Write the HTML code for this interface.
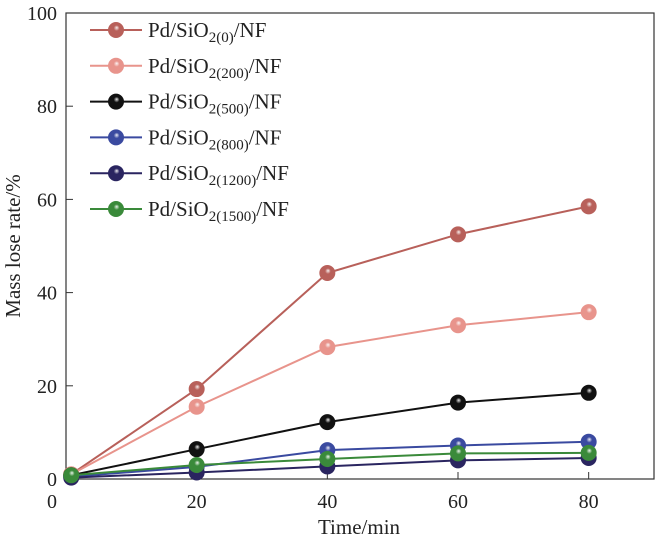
<!DOCTYPE html>
<html><head><meta charset="utf-8"><style>
body{margin:0;background:#fff}
svg{display:block;font-family:"Liberation Serif",serif}
</style></head><body>
<svg width="655" height="543" viewBox="0 0 655 543">
<defs>
<radialGradient id="gr" cx="0.5" cy="0.45" r="0.6" fx="0.55" fy="0.35"><stop offset="0" stop-color="#fff" stop-opacity="0.9"/><stop offset="0.3" stop-color="#fff" stop-opacity="0"/></radialGradient>
</defs>
<g id="axes"></g>
<g id="series"></g>
<g id="legend"></g>
</svg>
<script>
const xValues=[0.8,20,40,60,80];
const seriesNames=["0","200","500","800","1200","1500"];
const seriesColors=["#b8605a","#e8948c","#111111","#3a4aa0","#2a2560","#3a8a3a"];
const redValues=[1,19.3,44.2,52.5,58.5];
const pinkValues=[1,15.5,28.3,33,35.8];
const blackValues=[0.8,6.4,12.2,16.4,18.5];
const blueValues=[0.5,2.6,6.2,7.2,8.0];
const darkValues=[0.3,1.4,2.7,4.0,4.5];
const greenValues=[0.8,3.0,4.3,5.5,5.6];
const xTicks=[0,20,40,60,80];
const yTicks=[0,20,40,60,80,100];
const allSeries=[redValues,pinkValues,blackValues,blueValues,darkValues,greenValues];
const L=66,R=654,T=13,B=479;
const xs=v=>L+(v/90)*(R-L);
const ys=v=>B-(v/100)*(B-T);
const NS="http://www.w3.org/2000/svg";
function mk(tag,attrs,parent){const e=document.createElementNS(NS,tag);for(const k in attrs)e.setAttribute(k,attrs[k]);parent.appendChild(e);return e;}
const ax=document.getElementById('axes');
const frame=mk('rect',{x:L,y:T,width:R-L,height:B-T,fill:'none',stroke:'#333','stroke-width':1.2},ax);


xTicks.forEach(t=>{
  const x=xs(t);
  if(t>0){const tk=mk('line',{x1:x,x2:x,y1:B,y2:B-7,stroke:'#333'},ax);
  
  }
  const lb=mk('text',{x:t===0?L-14:x,y:B+29,'text-anchor':'middle','font-size':20,fill:'#222'},ax);
  lb.textContent=t;
  
  
});
yTicks.forEach(t=>{
  const y=ys(t);
  if(t>0&&t<100){const tk=mk('line',{x1:L,x2:L+7,y1:y,y2:y,stroke:'#333'},ax);
  
  }
  const lb=mk('text',{x:L-9,y:y+7,'text-anchor':'end','font-size':20,fill:'#222'},ax);
  lb.textContent=t;
  
  
});
const xt=mk('text',{x:359,y:534,'text-anchor':'middle','font-size':21,fill:'#222'},ax);
xt.textContent='Time/min';


const yt=mk('text',{x:0,y:0,'text-anchor':'middle','font-size':21,fill:'#222',transform:'translate(20,246) rotate(-90)'},ax);
yt.textContent='Mass lose rate/%';


function marker(cx,cy,c,p){
  mk('circle',{cx:cx,cy:cy,r:8,fill:c},p);
  mk('circle',{cx:cx,cy:cy,r:8,fill:'url(#gr)'},p);
}
const sg=document.getElementById('series');
allSeries.forEach((vals,i)=>{
  const g=mk('g',{},sg);
  
  
  const pts=vals.map((v,j)=>xs(xValues[j])+','+ys(v)).join(' ');
  const pl=mk('polyline',{points:pts,fill:'none',stroke:seriesColors[i],'stroke-width':2},g);
  
  
  vals.forEach((v,j)=>marker(xs(xValues[j]),ys(v),seriesColors[i],g));
});
const lg=document.getElementById('legend');
seriesNames.forEach((n,i)=>{
  const y=30+i*35.8;
  const g=mk('g',{},lg);
  
  
  mk('line',{x1:90,x2:142,y1:y,y2:y,stroke:seriesColors[i],'stroke-width':2},g);
  marker(116,y,seriesColors[i],g);
  const t=mk('text',{x:148,y:y+7,'font-size':21,fill:'#222'},g);
  t.innerHTML='Pd/SiO<tspan font-size="15" dy="5">2('+n+')</tspan><tspan dy="-5">/NF</tspan>';
});
</script>
</body></html>
